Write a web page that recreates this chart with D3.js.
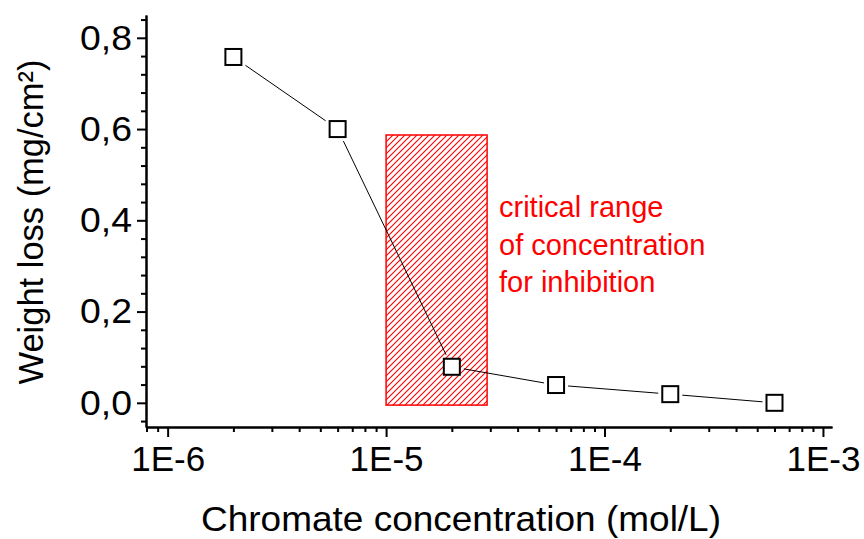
<!DOCTYPE html>
<html>
<head>
<meta charset="utf-8">
<script src="https://cdn.jsdelivr.net/npm/d3@7"></script>
<style>
  body { margin: 0; background: #fff; }
  text { font-family: "Liberation Sans", Arial, sans-serif; }
</style>
</head>
<body>
<svg id="canvas"></svg>
<script>
// data
let concentration = [2e-6, 6e-6, 2e-5, 6e-5, 2e-4, 6e-4];
let weightLoss = [0.758, 0.600, 0.079, 0.039, 0.019, 0.000];

let xTicks = [1e-6, 1e-5, 1e-4, 1e-3];
let xTickLabels = ['1E-6', '1E-5', '1E-4', '1E-3'];
let yTicks = [0, 0.2, 0.4, 0.6, 0.8];
let yTickLabels = ['0,0', '0,2', '0,4', '0,6', '0,8'];

// hatched box: critical range of concentration
let criticalX = [1e-5, 2.9e-5];
let criticalY = [-0.005, 0.587];
let criticalText = ['critical range', 'of concentration', 'for inhibition'];

let width = 864;
let height = 539;

let canvas = d3.select('#canvas')
    .attr('width', width)
    .attr('height', height);

// scales
let xScale = d3.scaleLog()
    .domain([7.96e-7, 1.1e-3])
    .range([146, 832]);
let yScale = d3.scaleLinear()
    .domain([-0.053, 0.85])
    .range([427, 15]);

// hatch pattern
let defs = canvas.append('defs');
defs.append('pattern')
    .attr('id', 'hatch')
    .attr('patternUnits', 'userSpaceOnUse')
    .attr('width', 6)
    .attr('height', 6)
    .append('path')
    .attr('d', 'M0,6 L6,0 M-1,1 L1,-1 M5,7 L7,5')
    .attr('stroke', '#ff0000')
    .attr('stroke-width', 1.1);

canvas.append('rect')
    .attr('x', xScale(criticalX[0]))
    .attr('y', yScale(criticalY[1]))
    .attr('width', xScale(criticalX[1]) - xScale(criticalX[0]))
    .attr('height', yScale(criticalY[0]) - yScale(criticalY[1]))
    .attr('fill', 'url(#hatch)')
    .attr('stroke', '#ff0000')
    .attr('stroke-width', 1.5);

canvas.append('text')
    .attr('fill', '#ff0000')
    .attr('font-size', 29)
    .selectAll('tspan')
    .data(criticalText)
    .enter()
    .append('tspan')
    .attr('x', 499)
    .attr('y', (d, i) => 217 + i * 37.5)
    .text(d => d);

// minor ticks
let xMinor = [];
[-7, -6, -5, -4, -3].forEach(e => {
    for (let m = 2; m <= 9; m++) {
        let v = m * Math.pow(10, e);
        if (v >= xScale.domain()[0] && v <= xScale.domain()[1]) xMinor.push(v);
    }
});
let yMinor = d3.range(-0.04, 0.85, 0.04).filter(v => Math.abs(v / 0.2 - Math.round(v / 0.2)) > 0.01);

canvas.append('g')
    .attr('transform', 'translate(0,427)')
    .call(d3.axisBottom(xScale).tickValues(xMinor).tickSize(5).tickSizeOuter(0).tickFormat(''))
    .call(g => g.selectAll('line,path').attr('stroke-width', 2));

canvas.append('g')
    .attr('transform', 'translate(146,0)')
    .call(d3.axisLeft(yScale).tickValues(yMinor).tickSize(5).tickSizeOuter(0).tickFormat(''))
    .call(g => g.selectAll('line,path').attr('stroke-width', 2));

// major axes
let xAxis = d3.axisBottom(xScale)
    .tickValues(xTicks)
    .tickSize(10)
    .tickSizeOuter(0)
    .tickPadding(9.5)
    .tickFormat((d, i) => xTickLabels[i]);

let yAxis = d3.axisLeft(yScale)
    .tickValues(yTicks)
    .tickSize(9)
    .tickSizeOuter(0)
    .tickPadding(5)
    .tickFormat((d, i) => yTickLabels[i]);

canvas.append('g')
    .attr('id', 'x-axis')
    .attr('transform', 'translate(0,427)')
    .call(xAxis)
    .call(g => g.selectAll('line,path').attr('stroke-width', 2))
    .call(g => g.selectAll('text').attr('font-size', 35).attr('font-family', null).attr('fill', '#000'));

canvas.append('g')
    .attr('id', 'y-axis')
    .attr('transform', 'translate(146,0)')
    .call(yAxis)
    .call(g => g.selectAll('line,path').attr('stroke-width', 2))
    .call(g => g.selectAll('text').attr('font-size', 35).attr('font-family', null).attr('fill', '#000')
        .attr('textLength', 52).attr('lengthAdjust', 'spacingAndGlyphs'));

// axis titles
canvas.append('text')
    .attr('x', 461)
    .attr('y', 531)
    .attr('text-anchor', 'middle')
    .attr('font-size', 35)
    .attr('textLength', 520)
    .attr('lengthAdjust', 'spacingAndGlyphs')
    .text('Chromate concentration (mol/L)');

canvas.append('text')
    .attr('transform', 'translate(43,222) rotate(-90)')
    .attr('text-anchor', 'middle')
    .attr('font-size', 35)
    .attr('textLength', 325)
    .attr('lengthAdjust', 'spacingAndGlyphs')
    .text('Weight loss (mg/cm²)');

// connecting line, stopping short of each marker
let half = 9;
let gap = 3;
let pts = concentration.map((c, i) => [xScale(c), yScale(weightLoss[i])]);
let segs = d3.pairs(pts).map(([a, b]) => {
    let dx = b[0] - a[0], dy = b[1] - a[1];
    let len = Math.hypot(dx, dy);
    let ux = dx / len, uy = dy / len;
    let t = (half + gap) / Math.max(Math.abs(ux), Math.abs(uy));
    return [[a[0] + ux * t, a[1] + uy * t], [b[0] - ux * t, b[1] - uy * t]];
});

canvas.selectAll('.seg')
    .data(segs)
    .enter()
    .append('path')
    .attr('class', 'seg')
    .attr('d', d => d3.line()(d))
    .attr('stroke', '#000')
    .attr('stroke-width', 1)
    .attr('fill', 'none');

canvas.selectAll('.marker')
    .data(concentration)
    .enter()
    .append('rect')
    .attr('class', 'marker')
    .attr('x', d => xScale(d) - 8)
    .attr('y', (d, i) => yScale(weightLoss[i]) - 8)
    .attr('width', 16)
    .attr('height', 16)
    .attr('fill', '#fff')
    .attr('stroke', '#000')
    .attr('stroke-width', 2);
</script>
</body>
</html>
